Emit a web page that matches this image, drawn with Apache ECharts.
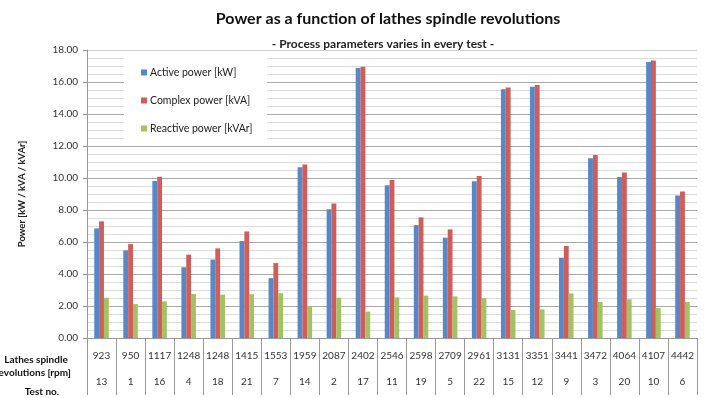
<!DOCTYPE html>
<html>
<head>
<meta charset="utf-8">
<script src="https://cdn.jsdelivr.net/npm/echarts@6/dist/echarts.min.js"></script>
<style>
  html, body { margin: 0; padding: 0; background: #fff; }
  #chart { width: 704px; height: 398px; }
</style>
</head>
<body>
<div id="chart"></div>
<script>
// Spindle revolutions [rpm] for each test, sorted ascending
const rpm = ['923', '950', '1117', '1248', '1248', '1415', '1553', '1959', '2087', '2402', '2546',
             '2598', '2709', '2961', '3131', '3351', '3441', '3472', '4064', '4107', '4442'];
// Test number belonging to each rpm column
const testNo = ['13', '1', '16', '4', '18', '21', '7', '14', '2', '17', '11',
                '19', '5', '22', '15', '12', '9', '3', '20', '10', '6'];

// Measured power values
const activePower = [6.85, 5.48, 9.81, 4.42, 4.9, 6.06, 3.74, 10.67, 8.05, 16.87, 9.55,
                     7.06, 6.27, 9.8, 15.54, 15.71, 5.02, 11.23, 10.06, 17.25, 8.9];
const complexPower = [7.29, 5.87, 10.08, 5.21, 5.6, 6.66, 4.68, 10.85, 8.4, 16.96, 9.87,
                      7.54, 6.79, 10.12, 15.65, 15.81, 5.75, 11.44, 10.35, 17.35, 9.16];
const reactivePower = [2.52, 2.12, 2.29, 2.75, 2.71, 2.74, 2.8, 2.0, 2.52, 1.65, 2.54,
                       2.65, 2.6, 2.5, 1.75, 1.79, 2.79, 2.25, 2.42, 1.87, 2.25];

const seriesNames = ['Active power [kW]', 'Complex power [kVA]', 'Reactive power [kVAr]'];
const colors = ['#5587c9', '#cf5d59', '#a3c262'];

const FONT = 'Lato, "Open Sans", sans-serif';

const chart = echarts.init(document.getElementById('chart'), null, { renderer: 'canvas' });

// Row captions of the data table below the plot
function rowCaption(text, x, y) {
  return {
    type: 'text', z: 5,
    style: { text: text, x: x, y: y, textAlign: 'center', textVerticalAlign: 'middle',
             font: 'bold 10px ' + FONT, fill: '#111' }
  };
}

// Major gridlines are mid grey, the top one (18.00) is lighter
const majorGridColors = ['#a8a8a8', '#a8a8a8', '#a8a8a8', '#a8a8a8', '#a8a8a8',
                         '#a8a8a8', '#a8a8a8', '#a8a8a8', '#a8a8a8', '#d0d0d0'];

const option = {
  animation: false,
  textStyle: { fontFamily: FONT },
  title: [
    {
      text: 'Power as a function of lathes spindle revolutions',
      left: 383, top: 6, textAlign: 'center',
      textStyle: { fontFamily: FONT, fontSize: 16, fontWeight: 'bold', color: '#111' }
    },
    {
      text: '- Process parameters varies in every test -',
      left: 378, top: 33, textAlign: 'center',
      textStyle: { fontFamily: FONT, fontSize: 12, fontWeight: 'bold', color: '#222' }
    }
  ],
  grid: { left: 87, right: 7, top: 50, bottom: 60, containLabel: false },
  legend: {
    orient: 'vertical',
    left: 136, top: 62,
    itemWidth: 6, itemHeight: 6, itemGap: 17,
    icon: 'rect',
    data: seriesNames,
    textStyle: { fontFamily: FONT, fontSize: 10.5, color: '#222', padding: [0, 0, 0, -2] },
    z: 10
  },
  graphic: [
    { type: 'rect', z: 5, shape: { x: 124, y: 56, width: 143, height: 84 }, style: { fill: '#fff' } },
    rowCaption('Lathes spindle', 36, 360),
    rowCaption('revolutions [rpm]', 33, 373),
    rowCaption('Test no.', 42, 392)
  ],
  xAxis: {
    type: 'category',
    data: rpm,
    boundaryGap: true,
    axisLine: { show: true, lineStyle: { color: '#999', width: 1 } },
    axisTick: { show: true, length: 57, inside: false, lineStyle: { color: '#999' } },
    axisLabel: {
      interval: 0,
      margin: 12,
      formatter: (value, idx) => '{a|' + value + '}\n{b|' + testNo[idx] + '}',
      rich: {
        a: { fontFamily: FONT, fontSize: 10, color: '#333', lineHeight: 12 },
        b: { fontFamily: FONT, fontSize: 10, color: '#333', lineHeight: 40 }
      }
    },
    splitLine: { show: false }
  },
  yAxis: {
    type: 'value',
    min: 0, max: 18, interval: 2,
    name: 'Power [kW / kVA / kVAr]',
    nameLocation: 'middle',
    nameGap: 60,
    nameTextStyle: { fontFamily: FONT, fontSize: 9.5, fontWeight: 'bold', color: '#222' },
    axisLine: { show: true, lineStyle: { color: '#999' } },
    axisTick: { show: true, length: 4, lineStyle: { color: '#999' } },
    axisLabel: {
      formatter: v => v.toFixed(2),
      fontFamily: FONT, fontSize: 10, color: '#333', margin: 9
    },
    splitLine: { show: true, lineStyle: { color: majorGridColors, width: 1 } },
    minorTick: { show: false, splitNumber: 4 },
    minorSplitLine: { show: true, lineStyle: { color: '#dcdcdc', width: 1 } }
  },
  series: [
    { name: seriesNames[0], type: 'bar', data: activePower, barGap: '0%', barCategoryGap: '50%',
      itemStyle: { color: colors[0] } },
    { name: seriesNames[1], type: 'bar', data: complexPower, barGap: '0%', barCategoryGap: '50%',
      itemStyle: { color: colors[1] } },
    { name: seriesNames[2], type: 'bar', data: reactivePower, barGap: '0%', barCategoryGap: '50%',
      itemStyle: { color: colors[2] } }
  ]
};

chart.setOption(option);
</script>
</body>
</html>
